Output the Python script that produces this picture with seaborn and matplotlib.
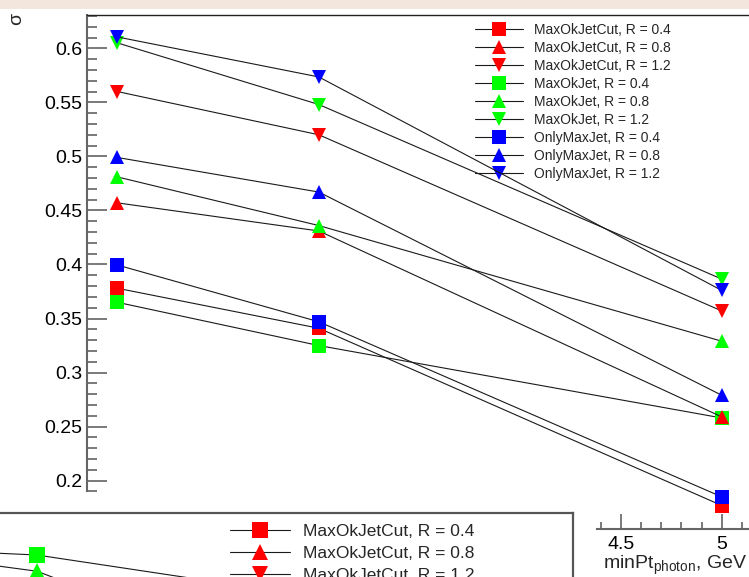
import numpy as np
import matplotlib
matplotlib.use("Agg")
import matplotlib.pyplot as plt
import seaborn as sns
from matplotlib.lines import Line2D
from matplotlib.patches import Rectangle
from matplotlib.ticker import FixedLocator, FuncFormatter

sns.set_theme(style="white")
plt.rcParams["font.family"] = ["Liberation Sans", "DejaVu Sans"]
plt.rcParams["mathtext.fontset"] = "custom"
plt.rcParams["mathtext.rm"] = "Liberation Sans"
plt.rcParams["mathtext.it"] = "Liberation Sans:italic"

# ---------------------------------------------------------------------------
# data
# ---------------------------------------------------------------------------
min_pt = [2, 3, 5]

cut_r04 = [0.378, 0.341, 0.177]
cut_r08 = [0.457, 0.431, 0.259]
cut_r12 = [0.560, 0.520, 0.357]
ok_r04 = [0.365, 0.325, 0.258]
ok_r08 = [0.481, 0.436, 0.329]
ok_r12 = [0.605, 0.548, 0.3865]
only_r04 = [0.3995, 0.347, 0.185]
only_r08 = [0.499, 0.467, 0.279]
only_r12 = [0.6105, 0.5735, 0.376]

# second (partly hidden) panel in the lower left corner
lower_x = [1, 2, 3]
lower_ok_r04 = [0.5585, 0.550, 0.522]
lower_ok_r08 = [0.560, 0.535, 0.464]

labels = [
    "MaxOkJetCut, R = 0.4", "MaxOkJetCut, R = 0.8", "MaxOkJetCut, R = 1.2",
    "MaxOkJet, R = 0.4", "MaxOkJet, R = 0.8", "MaxOkJet, R = 1.2",
    "OnlyMaxJet, R = 0.4", "OnlyMaxJet, R = 0.8", "OnlyMaxJet, R = 1.2",
]
values = [cut_r04, cut_r08, cut_r12, ok_r04, ok_r08, ok_r12, only_r04, only_r08, only_r12]
colors = ["#ff0000"] * 3 + ["#00ff00"] * 3 + ["#0000ff"] * 3
markers = ["s", "^", "v"] * 3
sizes = {"s": 9.6, "^": 9.4, "v": 9.6}

W, H = 749, 577


def px_box(x0, y0, x1, y1):
    return [x0 / W, 1 - y1 / H, (x1 - x0) / W, (y1 - y0) / H]


fig = plt.figure(figsize=(W / 100, H / 100), dpi=100)
fig.patch.set_facecolor("white")

# ---------------------------------------------------------------------------
# main panel
# ---------------------------------------------------------------------------
ax = fig.add_axes(px_box(87, 14.7, 781, 529.3))
ax.set_facecolor("white")
ax.set_xlim(1.849, 5.294)
ax.set_ylim(0.155, 0.6311)

# drawn group by group in R (that is how the markers overlap in the original)
draw_order = [0, 3, 6, 1, 4, 7, 2, 5, 8]
for z, i in enumerate(draw_order):
    m = markers[i]
    sns.lineplot(x=min_pt, y=values[i], ax=ax, color="#1a1a1a", lw=0.8,
                 marker=m, markersize=sizes[m], markerfacecolor=colors[i],
                 markeredgecolor=colors[i], markeredgewidth=0, zorder=2 + z)

ax.xaxis.set_major_locator(FixedLocator([4.5, 5.0]))
ax.xaxis.set_minor_locator(FixedLocator([4.4, 4.6, 4.7, 4.8, 4.9, 5.1, 5.2]))
ax.xaxis.set_major_formatter(FuncFormatter(lambda v, p: f"{v:g}"))
ax.yaxis.set_major_locator(FixedLocator(np.arange(0.2, 0.601, 0.05)))
ax.yaxis.set_minor_locator(FixedLocator(np.arange(0.19, 0.635, 0.01)))
ax.yaxis.set_major_formatter(FuncFormatter(lambda v, p: f"{v:g}"))

tick_col = "#555555"
ax.tick_params(axis="y", which="major", direction="in", length=14.4, width=1.1,
               color=tick_col, labelsize=14, pad=3.6, left=True, labelcolor="black")
ax.tick_params(axis="y", which="minor", direction="in", length=7.2, width=1.1,
               color=tick_col, left=True)
ax.tick_params(axis="x", which="major", direction="in", length=10.8, width=1.1,
               color=tick_col, labelsize=14, pad=4.5, bottom=True, labelcolor="black")
ax.tick_params(axis="x", which="minor", direction="in", length=5.4, width=1.1,
               color=tick_col, bottom=True)

for side in ["left", "bottom"]:
    ax.spines[side].set_color("#666666")
    ax.spines[side].set_linewidth(1.5)
ax.spines["left"].set_bounds(0.1905, 0.6311)
ax.spines["bottom"].set_bounds(4.38, 5.294)
ax.spines["top"].set_color("#222222")
ax.spines["top"].set_linewidth(1.0)
ax.spines["right"].set_visible(False)

ax.set_xlabel(r"minPt$_{\mathrm{photon}}$, GeV", fontsize=14, ha="left", va="top")
ax.xaxis.set_label_coords((603 - 87) / 694, -0.048)
ax.set_ylabel("")
fig.text(17 / W, 1 - 19 / H, "σ", rotation=90, ha="center", va="center", fontsize=14)

handles = [
    Line2D([], [], color="#1a1a1a", lw=0.8, marker=markers[i], ms=sizes[markers[i]],
           mfc=colors[i], mec=colors[i], mew=0)
    for i in range(9)
]
ax.legend(handles, labels, loc="upper left", bbox_to_anchor=(475 / W, 1 - 23 / H),
          bbox_transform=fig.transFigure, frameon=False, fontsize=10, borderpad=0,
          borderaxespad=0, handlelength=3.45, handletextpad=0.8, labelspacing=0.29)

# ---------------------------------------------------------------------------
# lower-left panel (only its corner is on screen)
# ---------------------------------------------------------------------------
ax2 = fig.add_axes(px_box(-10, 512.5, 572.7, 620), zorder=3)
ax2.set_facecolor("white")
ax2.set_xlim(1.767, 4.66)
ax2.set_ylim(0.4899, 0.5893)
sns.lineplot(x=lower_x, y=lower_ok_r04, ax=ax2, color="#1a1a1a", lw=0.8, marker="s",
             markersize=12, markerfacecolor="#00ff00", markeredgecolor="#00ff00",
             markeredgewidth=0, zorder=2)
sns.lineplot(x=lower_x, y=lower_ok_r08, ax=ax2, color="#1a1a1a", lw=0.8, marker="^",
             markersize=12, markerfacecolor="#00ff00", markeredgecolor="#00ff00",
             markeredgewidth=0, zorder=3)
ax2.set_xticks([])
ax2.set_yticks([])
ax2.set_xlabel("")
ax2.set_ylabel("")
for side in ["left", "bottom"]:
    ax2.spines[side].set_visible(False)
for side in ["top", "right"]:
    ax2.spines[side].set_color("#555555")
    ax2.spines[side].set_linewidth(1.6)

handles2 = [
    Line2D([], [], color="#1a1a1a", lw=0.8, marker=markers[i], ms=12,
           mfc=colors[i], mec=colors[i], mew=0)
    for i in range(9)
]
leg2 = ax2.legend(handles2, labels, loc="upper left", bbox_to_anchor=(230 / W, 1 - 524 / H),
                  bbox_transform=fig.transFigure, frameon=False, fontsize=12.5, borderpad=0,
                  borderaxespad=0, handlelength=3.45, handletextpad=0.75, labelspacing=0.38)
leg2.set_zorder(10)

# window strip at the very top
fig.add_artist(Rectangle((0, 1 - 9 / H), 1, 9 / H, transform=fig.transFigure,
                         facecolor="#f3e6dc", edgecolor="none", zorder=20))

fig.savefig("out.png", dpi=100)
